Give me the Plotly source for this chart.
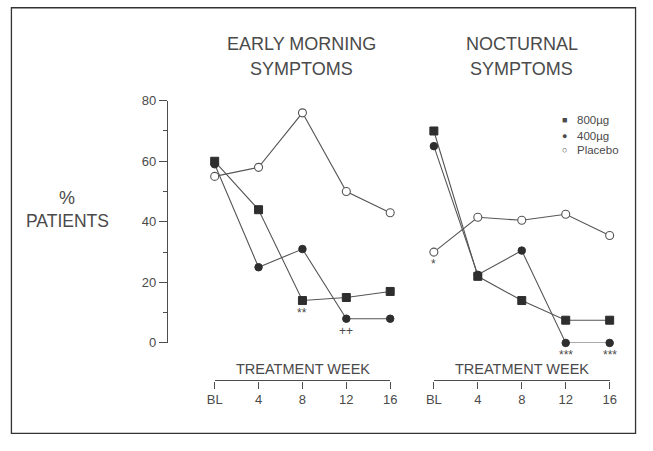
import plotly.graph_objects as go

# The page body keeps its default 8px margin, so the figure starts 8px in;
# it is sized to reach the right/bottom edges of the 653x451 window.
PAGE_W, PAGE_H = 653, 451
OFF = 8
W, H = PAGE_W - OFF, PAGE_H - OFF

weeks = [0, 4, 8, 12, 16]
week_labels = ["BL", "4", "8", "12", "16"]

# Early morning symptoms (% patients)
em_800 = [60, 44, 14, 15, 17]
em_400 = [59, 25, 31, 8, 8]
em_placebo = [55, 58, 76, 50, 43]

# Nocturnal symptoms (% patients)
noc_800 = [70, 22, 14, 7.5, 7.5]
noc_400 = [65, 22.5, 30.5, 0, 0]
noc_placebo = [30, 41.5, 40.5, 42.5, 35.5]

series_names = ["800µg", "400µg", "Placebo"]

# significance marks: (panel, week, anchor value, text)
sig_marks = [("em", 8, 14, "**"), ("em", 12, 8, "++"),
             ("noc", 0, 30, "*"), ("noc", 12, 0, "***"), ("noc", 16, 0, "***")]

LINE = "#4d4d4d"
TXT = "#4a4a4a"
FONT = "Liberation Sans, Arial, sans-serif"


def px(x):
    return (x - OFF) / W


def py(y):
    return 1 - (y - OFF) / H


styles = {
    "800µg": dict(symbol="square", size=8, color="#2e2e2e", line=dict(color="#2e2e2e", width=1)),
    "400µg": dict(symbol="circle", size=7.5, color="#2e2e2e", line=dict(color="#2e2e2e", width=1)),
    "Placebo": dict(symbol="circle", size=8, color="white", line=dict(color="#555555", width=1.1)),
}

fig = go.Figure()

for xa, ya, data in [("x", "y", [em_800, em_400, em_placebo]),
                     ("x2", "y2", [noc_800, noc_400, noc_placebo])]:
    for name, vals in zip(series_names, data):
        fig.add_trace(go.Scatter(
            x=weeks, y=vals, mode="lines+markers", name=name,
            xaxis=xa, yaxis=ya, showlegend=False, cliponaxis=False,
            line=dict(color="#555555", width=1.1),
            marker=styles[name],
        ))

ydom = [py(355.7), py(105)]
xaxis_common = dict(
    range=[0, 16], tickmode="array", tickvals=weeks, ticktext=week_labels,
    showline=True, linecolor=LINE, linewidth=1.3, ticks="outside", ticklen=7,
    tickcolor=LINE, tickwidth=1.2, showgrid=False, zeroline=False,
    anchor="free", position=py(394.5),
    tickfont=dict(family=FONT, size=13, color=TXT),
)

fig.update_layout(
    width=W, height=H, autosize=False,
    margin=dict(l=0, r=0, t=0, b=0),
    paper_bgcolor="white", plot_bgcolor="white",
    xaxis=dict(domain=[px(219.6), px(399.3)], **xaxis_common),
    xaxis2=dict(domain=[px(444), px(624)], **xaxis_common),
    yaxis=dict(
        domain=ydom, range=[0, 80], anchor="free", position=px(170.7),
        tickmode="array", tickvals=[0, 20, 40, 60, 80],
        showline=True, linecolor=LINE, linewidth=1.3,
        ticks="outside", ticklen=8, tickcolor=LINE, tickwidth=1.2,
        minor=dict(tickmode="array", tickvals=[10, 30, 50, 70], ticklen=4,
                   tickcolor=LINE, tickwidth=1, ticks="outside", showgrid=False),
        showgrid=False, zeroline=False,
        tickfont=dict(family=FONT, size=13, color=TXT),
    ),
    yaxis2=dict(domain=ydom, range=[0, 80], anchor="x2", visible=False),
    showlegend=False,
)

annotations = []


def txt(x, y, text, size, xanchor="center"):
    annotations.append(dict(
        x=px(x), y=py(y), xref="paper", yref="paper", text=text, showarrow=False,
        xanchor=xanchor, yanchor="middle",
        font=dict(family=FONT, size=size, color=TXT),
    ))


txt(308, 46, "EARLY MORNING", 18)
txt(308.5, 72, "SYMPTOMS", 18)
txt(534, 46, "NOCTURNAL", 18)
txt(534, 72, "SYMPTOMS", 18)
txt(68, 206, "%", 18)
txt(69, 230, "PATIENTS", 17.5)
txt(310, 383, "TREATMENT WEEK", 14.5)
txt(534, 383, "TREATMENT WEEK", 14.5)

# legend
leg_rows = [(125, "■", "800µg"), (141.5, "●", "400µg"), (156, "○", "Placebo")]
for y, sym, label in leg_rows:
    txt(577.5, y, sym, 9)
    txt(588, y, label, 11.5, xanchor="left")

for panel, wk, yv, t in sig_marks:
    annotations.append(dict(
        x=wk, y=yv, xref="x" if panel == "em" else "x2", yref="y" if panel == "em" else "y2",
        text=t, showarrow=False, xanchor="center", yanchor="middle", yshift=-12,
        font=dict(family=FONT, size=12, color=TXT),
    ))

fig.update_layout(annotations=annotations)

# frame (top edge clamped to what fits inside the figure)
fig.add_shape(type="rect", xref="paper", yref="paper",
              x0=px(11.5), x1=px(650.5),
              y0=py(449.3), y1=min(py(5.7), 1 - 0.8 / H),
              line=dict(color="#333333", width=1.3), fillcolor="rgba(0,0,0,0)")

fig.write_html("out.html")
